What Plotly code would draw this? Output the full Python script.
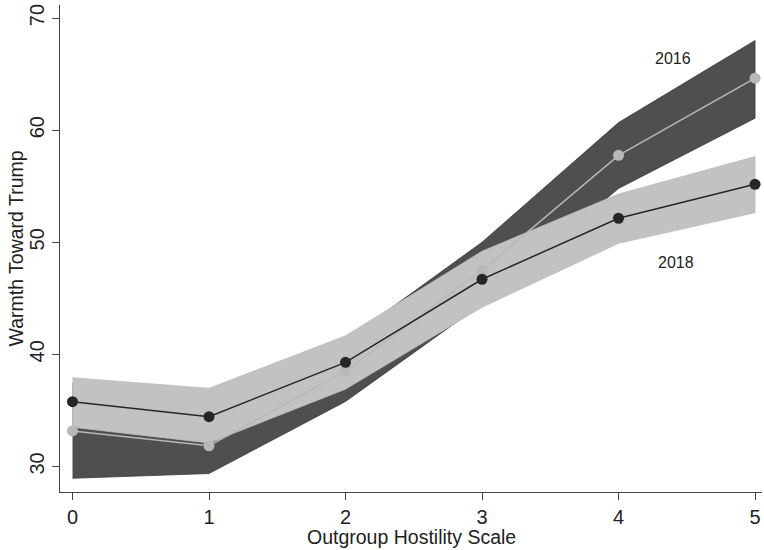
import plotly.graph_objects as go

# Data
hostility = [0, 1, 2, 3, 4, 5]
warmth_2016 = [33.17, 31.85, 38.5, 47.5, 57.75, 64.63]
lo_2016 = [28.95, 29.37, 35.8, 44.5, 54.8, 61.06]
hi_2016 = [37.4, 34.4, 41.2, 50.0, 60.67, 67.99]
warmth_2018 = [35.78, 34.44, 39.29, 46.70, 52.14, 55.17]
lo_2018 = [33.5, 32.1, 36.9, 44.2, 49.9, 52.64]
hi_2018 = [37.92, 36.97, 41.65, 49.2, 54.3, 57.64]
x_ticks = [0, 1, 2, 3, 4, 5]
y_ticks = [30, 40, 50, 60, 70]
label_2016 = ("2016", 4.40, 66.4)
label_2018 = ("2018", 4.42, 48.2)
x_title = "Outgroup Hostility Scale"
y_title = "Warmth Toward Trump"

DARK_BAND = "#4f4f4f"
LIGHT_BAND = "#c2c2c2"
LINE_2018 = "#262626"
LINE_2016 = "#b8b8b8"
FONT = "Liberation Sans, Arial, Helvetica, sans-serif"

fig = go.Figure()

# 2016 band
fig.add_trace(go.Scatter(
    x=hostility + hostility[::-1], y=hi_2016 + lo_2016[::-1],
    fill="toself", fillcolor=DARK_BAND, mode="lines",
    line=dict(color="#3a3a3a", width=0.8), hoverinfo="skip", showlegend=False))
# 2018 band
fig.add_trace(go.Scatter(
    x=hostility + hostility[::-1], y=hi_2018 + lo_2018[::-1],
    fill="toself", fillcolor=LIGHT_BAND, mode="lines",
    line=dict(color="#bcbcbc", width=0.8), hoverinfo="skip", showlegend=False))
# 2016 line
fig.add_trace(go.Scatter(
    x=hostility, y=warmth_2016, mode="lines+markers",
    line=dict(color=LINE_2016, width=1.5),
    marker=dict(color=LINE_2016, size=11), showlegend=False))
# 2018 line
fig.add_trace(go.Scatter(
    x=hostility, y=warmth_2018, mode="lines+markers",
    line=dict(color=LINE_2018, width=1.5),
    marker=dict(color=LINE_2018, size=11), showlegend=False))

for txt, lx, ly in (label_2016, label_2018):
    fig.add_annotation(x=lx, y=ly, text=txt, showarrow=False,
                       font=dict(family=FONT, size=16, color="#222222"))

# axis titles
fig.add_annotation(xref="paper", yref="paper", x=0.5, y=0, yanchor="middle",
                   yshift=-45, text=x_title, showarrow=False,
                   font=dict(family=FONT, size=19.5, color="#222222"))
fig.add_annotation(xref="paper", yref="paper", x=0, y=0.5, xanchor="center",
                   xshift=-45, textangle=-90, text=y_title, showarrow=False,
                   font=dict(family=FONT, size=19.5, color="#222222"))

fig.update_layout(
    width=764, height=550,
    margin=dict(l=60, r=2, t=5, b=58),
    paper_bgcolor="white", plot_bgcolor="white",
    font=dict(family=FONT, color="#222222"),
    xaxis=dict(
        range=[-0.0916, 5.051], tickvals=x_ticks, ticktext=[str(v) for v in x_ticks],
        showgrid=False, zeroline=False, showline=True, linecolor="#444444", linewidth=1,
        ticks="outside", ticklen=7, tickcolor="#444444", tickfont=dict(size=20),
        automargin=False, ticklabeloverflow="allow",
    ),
    yaxis=dict(
        range=[27.725, 71.16], tickvals=y_ticks, ticktext=[str(v) for v in y_ticks],
        showgrid=False, zeroline=False, showline=True, linecolor="#444444", linewidth=1,
        ticks="outside", ticklen=7, tickcolor="#444444", tickfont=dict(size=20),
        tickangle=-90, automargin=False, ticklabeloverflow="allow",
    ),
)

# remove the browser's default 8px body margin so the figure sits at (0, 0)
fig.write_html(
    "out.html",
    config={"displayModeBar": False},
    post_script="document.body.style.margin='0';document.body.style.overflow='hidden';",
)
